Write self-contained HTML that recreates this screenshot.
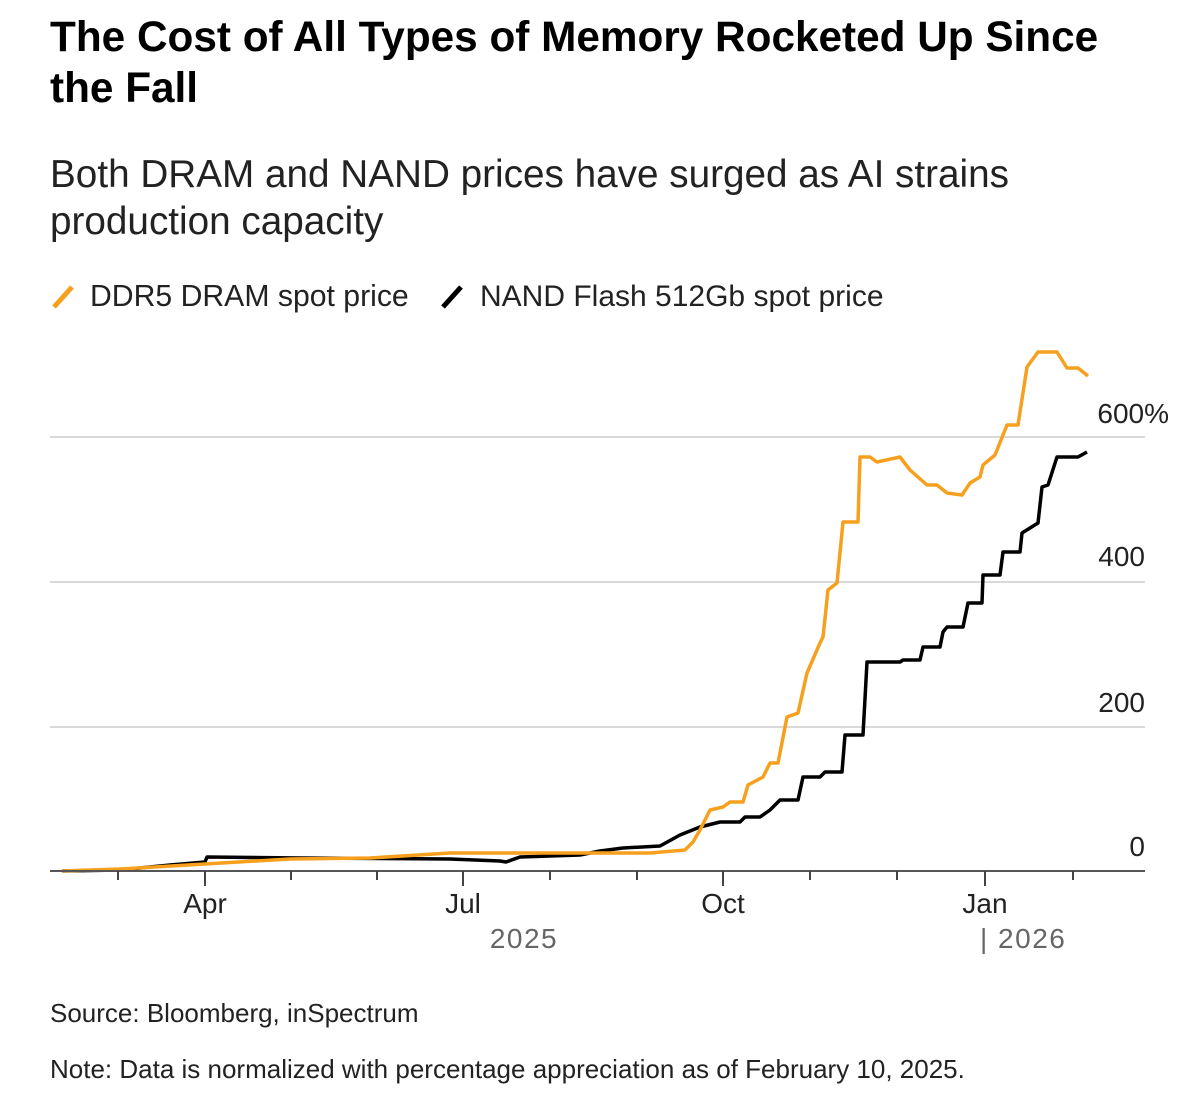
<!DOCTYPE html>
<html><head><meta charset="utf-8"><style>
html,body{margin:0;padding:0;background:#fff;width:1200px;height:1100px;overflow:hidden}
body{font-family:"Liberation Sans",sans-serif;color:#000;position:relative}
.t{position:absolute;left:50px;top:11px;font-size:42.3px;font-weight:bold;line-height:51px;width:1140px;white-space:nowrap}
.s{position:absolute;left:50px;top:151px;font-size:38.7px;line-height:47px;color:#222;white-space:nowrap}
.src{position:absolute;left:50px;font-size:26px;color:#222;white-space:nowrap}
</style></head><body>
<div class="t">The Cost of All Types of Memory Rocketed Up Since<br>the Fall</div>
<div class="s">Both DRAM and NAND prices have surged as AI strains<br>production capacity</div>
<svg width="1200" height="1100" style="position:absolute;left:0;top:0">
<g font-family="Liberation Sans, sans-serif">
<line x1="54" y1="307" x2="72" y2="287" stroke="#f7a01e" stroke-width="5"/>
<text x="90" y="306" font-size="30.2" fill="#222">DDR5 DRAM spot price</text>
<line x1="443" y1="307" x2="461" y2="287" stroke="#000" stroke-width="5"/>
<text x="480" y="306" font-size="30" fill="#222">NAND Flash 512Gb spot price</text>
<g stroke="#d9d9d9" stroke-width="2">
<line x1="50" y1="437" x2="1145" y2="437"/><line x1="50" y1="582" x2="1145" y2="582"/><line x1="50" y1="727" x2="1145" y2="727"/>
</g>
<g font-size="28" fill="#222" text-anchor="end">
<text x="1169" y="423">600%</text><text x="1145" y="566">400</text><text x="1145" y="712">200</text><text x="1145" y="856">0</text>
</g>
<polyline fill="none" stroke="#000" stroke-width="3.5" stroke-linejoin="round" points="62,871 120,870 170,865 205,862 207,857 300,858 450,859 500,861 506,862 520,857 580,855 600,851 623,848 660,846 680,835 700,827 720,822 740,822 745,817 760,817 770,810 780,800 798,800 803,777 820,777 825,772 842,772 845,735 863,735 867,662 900,662 903,660 920,660 923,647 940,647 943,632 947,627 963,627 968,603 982,603 983,575 1000,575 1003,552 1020,552 1022,533 1038,523 1042,487 1048,485 1057,457 1078,457 1087,452"/>
<polyline fill="none" stroke="#f7a01e" stroke-width="3.5" stroke-linejoin="round" points="62,871 120,869 205,864 290,859 370,858 450,853 550,853 600,853 650,853 685,850 693,842 700,830 710,810 723,807 730,802 743,802 748,785 763,777 770,763 778,763 787,717 798,713 807,673 820,643 823,637 828,590 837,583 843,522 858,522 860,457 870,457 877,462 900,457 910,470 927,485 937,485 947,493 962,495 970,483 980,477 983,465 995,455 1007,425 1018,425 1027,367 1038,352 1057,352 1067,368 1078,368 1088,376"/>
<line x1="50" y1="871" x2="1145" y2="871" stroke="#555" stroke-width="2"/>
<g stroke="#444" stroke-width="2">
<line x1="118" y1="871" x2="118" y2="880"/><line x1="205" y1="871" x2="205" y2="886"/><line x1="291" y1="871" x2="291" y2="880"/><line x1="377" y1="871" x2="377" y2="880"/><line x1="463" y1="871" x2="463" y2="886"/><line x1="550" y1="871" x2="550" y2="880"/><line x1="637" y1="871" x2="637" y2="880"/><line x1="723" y1="871" x2="723" y2="886"/><line x1="810" y1="871" x2="810" y2="880"/><line x1="897" y1="871" x2="897" y2="880"/><line x1="985" y1="871" x2="985" y2="886"/><line x1="1073" y1="871" x2="1073" y2="880"/>
</g>
<g font-size="28" fill="#222" text-anchor="middle">
<text x="205" y="913">Apr</text><text x="463" y="913">Jul</text><text x="723" y="913">Oct</text><text x="985" y="913">Jan</text>
</g>
<g font-size="28" fill="#666" letter-spacing="1.5">
<text x="524" y="948" text-anchor="middle">2025</text>
<text x="980" y="948">| 2026</text>
</g>
</g>
</svg>
<div class="src" style="top:998px">Source: Bloomberg, inSpectrum</div>
<div class="src" style="top:1054px">Note: Data is normalized with percentage appreciation as of February 10, 2025.</div>
</body></html>
